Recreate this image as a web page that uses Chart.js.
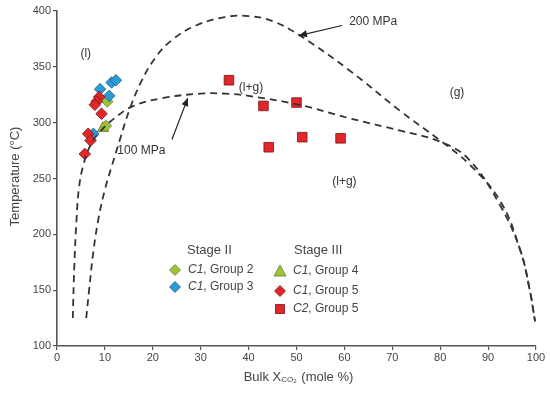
<!DOCTYPE html>
<html><head><meta charset="utf-8">
<script src="https://cdn.jsdelivr.net/npm/chart.js@4.4.0/dist/chart.umd.min.js"></script>
<style>html,body{margin:0;padding:0;background:#fff}#wrap{width:550px;height:394px}</style>
</head><body><div id="wrap"><canvas id="c" width="550" height="394"></canvas></div>
<script>
// Data (x = bulk XCO2 mole %, y = temperature °C)
const xTicks = [0,10,20,30,40,50,60,70,80,90,100];
const yTicks = [100,150,200,250,300,350,400];
const group2 = [{x:10.5,y:319},{x:10.2,y:297}];
const group3 = [{x:11.4,y:336},{x:12.3,y:338},{x:9.0,y:330},{x:10.9,y:324},{x:7.6,y:290}];
const group4 = [{x:9.6,y:295}];
const group5C1 = [{x:8.8,y:323},{x:8.3,y:319},{x:7.9,y:316},{x:9.3,y:308},{x:6.5,y:290},{x:7.0,y:284},{x:5.8,y:272}];
const group5C2 = [{x:35.9,y:338},{x:43.1,y:315},{x:50.0,y:318},{x:44.2,y:278},{x:51.2,y:287},{x:59.2,y:286}];
const iso100 = [{x:3.3,y:125},{x:3.6,y:170},{x:4.1,y:215},{x:4.6,y:242},{x:5.5,y:262},{x:7,y:280},{x:9,y:292},{x:12,y:304},{x:16,y:315},{x:22,y:322},{x:30,y:326},{x:35,y:326},{x:40,y:324},{x:50.5,y:316},{x:61,y:304},{x:71.5,y:293},{x:80,y:283},{x:86,y:267},{x:92.5,y:226},{x:96.7,y:186},{x:98.7,y:150},{x:99.8,y:122}];
const iso200 = [{x:6.1,y:125},{x:6.7,y:150},{x:7.6,y:185},{x:8.7,y:215},{x:10,y:240},{x:11.5,y:262},{x:13,y:283},{x:15,y:310},{x:17.5,y:336},{x:20.5,y:358},{x:24,y:374},{x:29,y:387},{x:35,y:394.5},{x:40,y:395.5},{x:45,y:391},{x:50.7,y:378},{x:61,y:347},{x:71.5,y:311},{x:80,y:284},{x:86,y:263},{x:92.5,y:230},{x:96.7,y:186},{x:98.7,y:150},{x:99.8,y:122}];

const GREEN='#9cc23a', BLUE='#2c9ad6', RED='#e2272b';
const dashStyle = {showLine:true,pointRadius:0,borderColor:'#333',borderWidth:1.8,borderDash:[7,5],tension:0.4,fill:false};

const overlay = {
  id:'overlay',
  afterDraw(chart){
    const ctx=chart.ctx, xs=chart.scales.x, ys=chart.scales.y;
    const X=v=>xs.getPixelForValue(v), Y=v=>ys.getPixelForValue(v);
    ctx.save();
    ctx.fillStyle='#333';
    ctx.font='12px "Liberation Sans", Arial, sans-serif';
    ctx.textAlign='center'; ctx.textBaseline='middle';
    ctx.fillText('(l)',X(6),Y(362));
    ctx.fillText('(l+g)',X(40.5),Y(331));
    ctx.fillText('(g)',X(83.5),Y(327));
    ctx.fillText('(l+g)',X(60),Y(247));
    ctx.textAlign='left';
    ctx.fillText('200 MPa',X(61),Y(390));
    ctx.fillText('100 MPa',X(12.6),Y(275));
    // arrows
    function arrow(x1,y1,x2,y2){
      ctx.strokeStyle='#222'; ctx.fillStyle='#222'; ctx.lineWidth=1.2;
      ctx.beginPath(); ctx.moveTo(x1,y1); ctx.lineTo(x2,y2); ctx.stroke();
      const a=Math.atan2(y2-y1,x2-x1), L=8, w=3.5;
      ctx.beginPath(); ctx.moveTo(x2,y2);
      ctx.lineTo(x2-L*Math.cos(a)+w*Math.sin(a), y2-L*Math.sin(a)-w*Math.cos(a));
      ctx.lineTo(x2-L*Math.cos(a)-w*Math.sin(a), y2-L*Math.sin(a)+w*Math.cos(a));
      ctx.closePath(); ctx.fill();
    }
    arrow(X(59.5),Y(387),X(50.5),Y(378));
    arrow(X(24),Y(285),X(27.3),Y(322));
    // axis titles
    ctx.fillStyle='#444';
    ctx.textBaseline='alphabetic';
    const cx=(xs.left+xs.right)/2, ty=381;
    const p1='Bulk X', p2='CO', p3=' (mole %)';
    const f1='13px "Liberation Sans", Arial, sans-serif', f2='8px "Liberation Sans", Arial, sans-serif';
    ctx.font=f1; const w1=ctx.measureText(p1).width, w3=ctx.measureText(p3).width;
    ctx.font=f2; const w2=ctx.measureText(p2).width, w2b=ctx.measureText('2').width;
    let sx=cx-(w1+w2+w2b+w3)/2+2;
    ctx.textAlign='left';
    ctx.font=f1; ctx.fillText(p1,sx,ty); sx+=w1;
    ctx.font=f2; ctx.fillText(p2,sx,ty+1); sx+=w2;
    ctx.font='6px "Liberation Sans", Arial, sans-serif'; ctx.fillText('2',sx,ty+2); sx+=w2b;
    ctx.font=f1; ctx.fillText(p3,sx,ty);
    ctx.save();
    ctx.translate(19,(ys.top+ys.bottom)/2-2); ctx.rotate(-Math.PI/2);
    ctx.textAlign='center'; ctx.font=f1;
    ctx.fillText('Temperature (°C)',0,0);
    ctx.restore();
    // legend
    ctx.font='13px "Liberation Sans", Arial, sans-serif';
    ctx.fillStyle='#444'; ctx.textAlign='left'; ctx.textBaseline='middle';
    ctx.fillText('Stage II',187,250);
    ctx.fillText('Stage III',294,250);
    function marker(type,x,y,fill,stroke){
      ctx.fillStyle=fill; ctx.strokeStyle=stroke; ctx.lineWidth=0.8;
      ctx.beginPath();
      if(type==='d'){ctx.moveTo(x-5.5,y);ctx.lineTo(x,y-5.5);ctx.lineTo(x+5.5,y);ctx.lineTo(x,y+5.5);}
      else if(type==='t'){ctx.moveTo(x,y-6);ctx.lineTo(x+6,y+5);ctx.lineTo(x-6,y+5);}
      else {ctx.rect(x-4.5,y-4.5,9,9);}
      ctx.closePath(); ctx.fill(); ctx.stroke();
    }
    function item(type,x,y,fill,stroke,c,rest){
      marker(type,x,y,fill,stroke);
      ctx.fillStyle='#444';
      ctx.font='italic 12px "Liberation Sans", Arial, sans-serif';
      ctx.fillText(c,x+13,y);
      const w=ctx.measureText(c).width;
      ctx.font='12px "Liberation Sans", Arial, sans-serif';
      ctx.fillText(rest,x+13+w,y);
    }
    item('d',175,270,GREEN,'#6a7f2a','C1',', Group 2');
    item('d',175,287,BLUE,'#1d5f86','C1',', Group 3');
    item('t',280,271,GREEN,'#6a7f2a','C1',', Group 4');
    item('d',280,291,RED,'#7a1416','C1',', Group 5');
    item('s',280,309,RED,'#7a1416','C2',', Group 5');
    ctx.restore();
  }
};

new Chart(document.getElementById('c'),{
  type:'scatter',
  data:{datasets:[
    Object.assign({label:'100 MPa',data:iso100},dashStyle),
    Object.assign({label:'200 MPa',data:iso200},dashStyle),
    {label:'C1, Group 5',data:group5C1,pointStyle:'rectRot',pointRadius:5.8,backgroundColor:RED,borderColor:'#7a1416',borderWidth:0.8},
    {label:'C1, Group 3',data:group3,pointStyle:'rectRot',pointRadius:5.8,backgroundColor:BLUE,borderColor:'#1d5f86',borderWidth:0.8},
    {label:'C1, Group 2',data:group2,pointStyle:'rectRot',pointRadius:5.8,backgroundColor:GREEN,borderColor:'#6a7f2a',borderWidth:0.8},
    {label:'C1, Group 4',data:group4,pointStyle:'triangle',pointRadius:6.5,backgroundColor:GREEN,borderColor:'#6a7f2a',borderWidth:0.8},
    {label:'C2, Group 5',data:group5C2,pointStyle:'rect',pointRadius:6.8,backgroundColor:RED,borderColor:'#7a1416',borderWidth:0.8}
  ]},
  options:{
    responsive:false,animation:false,
    layout:{padding:{left:0,right:14,top:11,bottom:0}},
    plugins:{legend:{display:false},tooltip:{enabled:false}},
    scales:{
      x:{type:'linear',min:0,max:100,
        afterBuildTicks(s){s.ticks=xTicks.map(v=>({value:v}));},
        afterFit(s){s.height=48;},
        grid:{drawOnChartArea:false,tickLength:4,color:'#555',lineWidth:1.2},
        border:{color:'#555',width:1.6},
        ticks:{color:'#444',font:{size:11,family:'"Liberation Sans", Arial, sans-serif'},padding:1,maxRotation:0}},
      y:{type:'linear',min:100,max:400,
        afterBuildTicks(s){s.ticks=yTicks.map(v=>({value:v}));},
        afterFit(s){s.width=57;},
        grid:{drawOnChartArea:false,tickLength:4,color:'#555',lineWidth:1.2},
        border:{color:'#555',width:1.6},
        ticks:{color:'#444',font:{size:11,family:'"Liberation Sans", Arial, sans-serif'},padding:2}}
    }
  },
  plugins:[overlay]
});
</script></body></html>
